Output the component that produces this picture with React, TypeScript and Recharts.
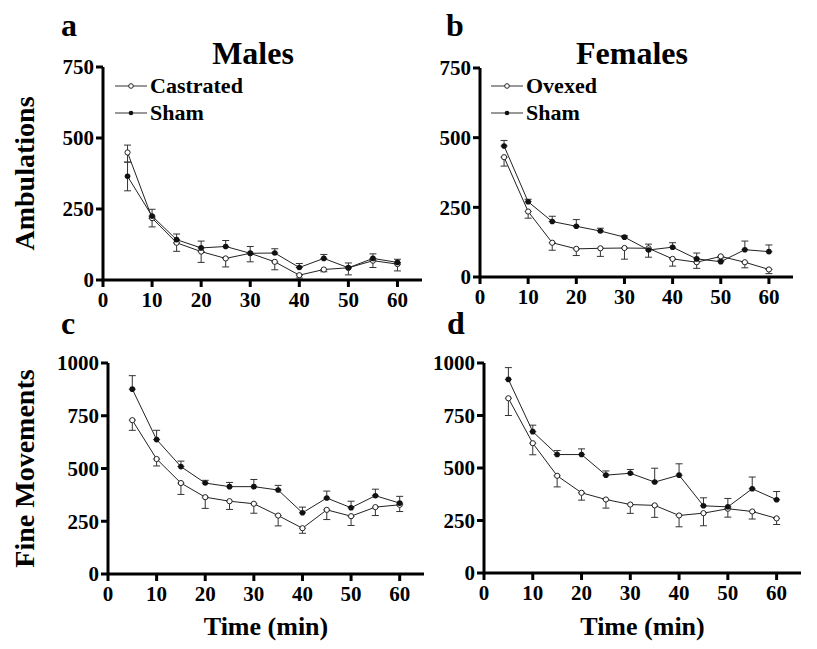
import { LineChart, Line, XAxis, YAxis, ErrorBar, Legend } from "recharts"

const FONT = '"Liberation Serif", "Times New Roman", serif'

const times = [5, 10, 15, 20, 25, 30, 35, 40, 45, 50, 55, 60]
const timeTicks = [0, 10, 20, 30, 40, 50, 60]
const ambulationTicks = [0, 250, 500, 750]
const fineTicks = [0, 250, 500, 750, 1000]

// errors are [below, above]

// a: males, ambulations
const maleAmbCastrated = [449, 218, 131, 100, 76, 94, 64, 17, 37, 43, 68, 56]
const maleAmbCastratedErr = [[34, 26], [31, 0], [30, 0], [38, 0], [30, 0], [30, 0], [28, 0], [10, 0], [8, 0], [25, 0], [24, 0], [24, 0]]
const maleAmbSham = [365, 225, 142, 113, 118, 94, 95, 44, 76, 43, 76, 62]
const maleAmbShamErr = [[51, 50], [0, 24], [0, 20], [0, 24], [0, 21], [0, 24], [0, 15], [0, 14], [0, 14], [0, 17], [0, 16], [0, 11]]

// b: females, ambulations
const femAmbOvexed = [430, 235, 123, 101, 103, 104, 103, 65, 53, 74, 53, 27]
const femAmbOvexedErr = [[32, 0], [24, 0], [27, 0], [24, 0], [29, 0], [40, 0], [32, 0], [26, 0], [22, 0], [5, 0], [20, 0], [15, 0]]
const femAmbSham = [470, 270, 199, 182, 165, 143, 97, 107, 65, 55, 98, 91]
const femAmbShamErr = [[0, 20], [0, 9], [0, 19], [0, 24], [0, 10], [0, 5], [0, 21], [0, 16], [0, 21], [0, 5], [0, 31], [0, 24]]

// c: males, fine movements
const maleFineCastrated = [729, 545, 431, 364, 345, 333, 277, 217, 304, 274, 317, 328]
const maleFineCastratedErr = [[48, 0], [33, 0], [54, 0], [53, 0], [39, 0], [45, 0], [49, 0], [24, 0], [46, 0], [44, 0], [40, 0], [32, 0]]
const maleFineSham = [876, 637, 509, 431, 414, 414, 398, 290, 360, 314, 371, 336]
const maleFineShamErr = [[0, 64], [0, 44], [0, 26], [0, 13], [0, 20], [0, 34], [0, 22], [0, 27], [0, 33], [0, 31], [0, 31], [0, 32]]

// d: females, fine movements
const femFineOvexed = [832, 618, 463, 382, 350, 326, 322, 274, 285, 306, 293, 260]
const femFineOvexedErr = [[82, 0], [55, 0], [53, 0], [35, 0], [41, 0], [42, 0], [57, 0], [54, 0], [60, 0], [40, 0], [36, 0], [29, 0]]
const femFineSham = [922, 673, 564, 564, 466, 475, 433, 466, 320, 315, 401, 349]
const femFineShamErr = [[0, 56], [0, 31], [0, 19], [0, 27], [0, 20], [0, 18], [0, 66], [0, 54], [0, 38], [0, 40], [0, 56], [0, 39]]

function buildRows(treated: number[], treatedErr: number[][], sham: number[], shamErr: number[][]) {
  return times.map((t, i) => ({
    time: t,
    treated: treated[i],
    treatedErr: treatedErr[i],
    sham: sham[i],
    shamErr: shamErr[i],
  }))
}

const tickStyle = { fill: "#000", fontSize: 21, fontWeight: "bold", fontFamily: FONT }
const axisLine = { stroke: "#000", strokeWidth: 3 }
const tickLine = { stroke: "#000", strokeWidth: 3 }

function LegendContent(props: any) {
  const payload = props.payload ?? []
  return (
    <div>
      {payload.map((entry: any) => {
        const open = entry.dataKey === "treated"
        return (
          <div key={entry.value} style={{ display: "flex", alignItems: "center", height: 27 }}>
            <svg width={35} height={10} style={{ display: "block" }}>
              <line x1={0} y1={5} x2={32} y2={5} stroke="#333" strokeWidth={1} />
              <circle cx={16} cy={5} r={2.3} fill={open ? "#fff" : "#111"} stroke={open ? "#222" : "none"} strokeWidth={1} />
            </svg>
            <span style={{ fontFamily: FONT, fontWeight: "bold", fontSize: 22, lineHeight: "27px", color: "#000" }}>
              {entry.value}
            </span>
          </div>
        )
      })}
    </div>
  )
}

interface PanelProps {
  left: number
  top: number
  width: number
  height: number
  margin: { top: number; right: number; bottom: number; left: number }
  yWidth: number
  xHeight: number
  data: any[]
  yMax: number
  yTicks: number[]
  yLabel?: string
  xLabel?: string
  treatedName: string
  legendLeft?: number
}

function Panel(p: PanelProps) {
  return (
    <div style={{ position: "absolute", left: p.left, top: p.top }}>
      <LineChart width={p.width} height={p.height} data={p.data} margin={p.margin}>
        <XAxis
          dataKey="time"
          type="number"
          domain={[0, 65]}
          ticks={timeTicks}
          interval={0}
          height={p.xHeight}
          axisLine={axisLine}
          tickLine={tickLine}
          tickSize={7}
          tickMargin={5}
          tick={tickStyle}
          label={
            p.xLabel
              ? { value: p.xLabel, position: "insideBottom", offset: 14, fill: "#000", fontSize: 26, fontWeight: "bold", fontFamily: FONT }
              : undefined
          }
        />
        <YAxis
          type="number"
          domain={[0, p.yMax]}
          ticks={p.yTicks}
          interval={0}
          width={p.yWidth}
          axisLine={axisLine}
          tickLine={tickLine}
          tickSize={7}
          tickMargin={2}
          tick={tickStyle}
          label={
            p.yLabel
              ? {
                  value: p.yLabel,
                  angle: -90,
                  position: "insideLeft",
                  offset: 24,
                  fill: "#000",
                  fontSize: 28,
                  fontWeight: "bold",
                  fontFamily: FONT,
                  style: { textAnchor: "middle" },
                }
              : undefined
          }
        />
        {p.legendLeft !== undefined && (
          <Legend
            layout="vertical"
            align="center"
            verticalAlign="middle"
            content={LegendContent}
            wrapperStyle={{ left: p.legendLeft, top: 72, width: "auto" }}
          />
        )}
        <Line
          dataKey="treated"
          name={p.treatedName}
          stroke="#222"
          strokeWidth={1}
          dot={{ r: 2.6, fill: "#fff", stroke: "#222", strokeWidth: 1 }}
          activeDot={false}
          isAnimationActive={false}
        >
          <ErrorBar dataKey="treatedErr" direction="y" width={3.5} stroke="#333" strokeWidth={1} />
        </Line>
        <Line
          dataKey="sham"
          name="Sham"
          stroke="#222"
          strokeWidth={1}
          dot={{ r: 2.8, fill: "#111", stroke: "none" }}
          activeDot={false}
          isAnimationActive={false}
        >
          <ErrorBar dataKey="shamErr" direction="y" width={3.5} stroke="#333" strokeWidth={1} />
        </Line>
      </LineChart>
    </div>
  )
}

export default function App() {
  const textStyle = { fontFamily: FONT, fontWeight: "bold" as const, fill: "#000" }
  return (
    <div style={{ position: "absolute", left: 0, top: 0, width: 817, height: 649, background: "#fff" }}>
      <Panel
        left={0}
        top={0}
        width={430}
        height={320}
        margin={{ top: 67, right: 8, bottom: 0, left: 0 }}
        yWidth={103}
        xHeight={40}
        data={buildRows(maleAmbCastrated, maleAmbCastratedErr, maleAmbSham, maleAmbShamErr)}
        yMax={750}
        yTicks={ambulationTicks}
        yLabel="Ambulations"
        treatedName="Castrated"
        legendLeft={115}
      />
      <Panel
        left={410}
        top={0}
        width={400}
        height={320}
        margin={{ top: 68, right: 17, bottom: 0, left: 0 }}
        yWidth={70}
        xHeight={43}
        data={buildRows(femAmbOvexed, femAmbOvexedErr, femAmbSham, femAmbShamErr)}
        yMax={750}
        yTicks={ambulationTicks}
        treatedName="Ovexed"
        legendLeft={81}
      />
      <Panel
        left={0}
        top={320}
        width={430}
        height={329}
        margin={{ top: 43, right: 6, bottom: 0, left: 0 }}
        yWidth={108}
        xHeight={75}
        data={buildRows(maleFineCastrated, maleFineCastratedErr, maleFineSham, maleFineShamErr)}
        yMax={1000}
        yTicks={fineTicks}
        yLabel="Fine Movements"
        xLabel="Time (min)"
        treatedName="Castrated"
      />
      <Panel
        left={410}
        top={320}
        width={400}
        height={329}
        margin={{ top: 43, right: 9, bottom: 0, left: 0 }}
        yWidth={74}
        xHeight={76}
        data={buildRows(femFineOvexed, femFineOvexedErr, femFineSham, femFineShamErr)}
        yMax={1000}
        yTicks={fineTicks}
        xLabel="Time (min)"
        treatedName="Ovexed"
      />
      <svg width={817} height={649} style={{ position: "absolute", left: 0, top: 0, pointerEvents: "none" }}>
        <text x={61} y={36} fontSize={32} {...textStyle}>a</text>
        <text x={446} y={36} fontSize={32} {...textStyle}>b</text>
        <text x={61} y={334} fontSize={32} {...textStyle}>c</text>
        <text x={447} y={334} fontSize={32} {...textStyle}>d</text>
        <text x={253} y={64} fontSize={32} textAnchor="middle" {...textStyle}>Males</text>
        <text x={632} y={64} fontSize={32} textAnchor="middle" {...textStyle}>Females</text>
      </svg>
    </div>
  )
}
